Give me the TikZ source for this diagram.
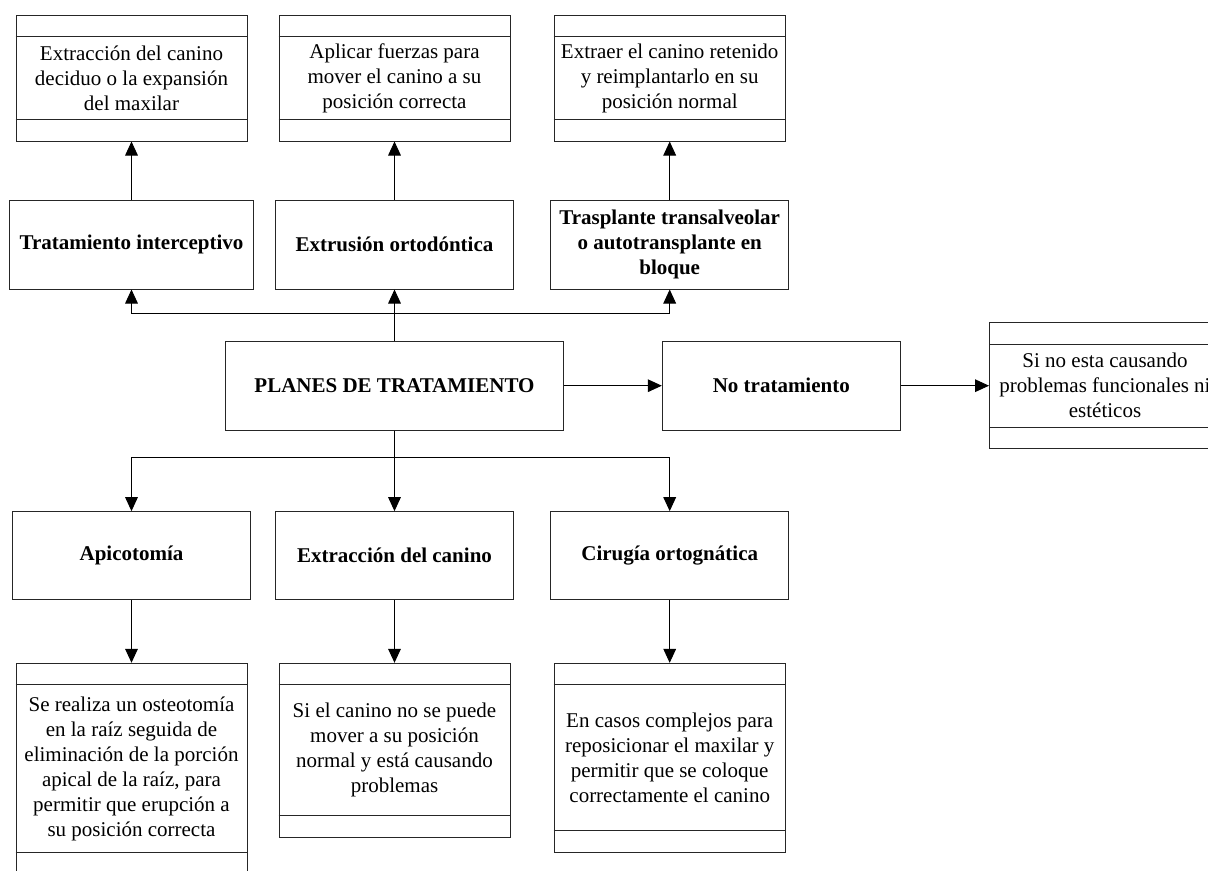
\documentclass[tikz,border=0pt]{standalone}
\usepackage{fontspec}
\setmainfont{Liberation Serif}
\usetikzlibrary{arrows.meta,calc}
\newcommand\classlines[1]{%
  \draw[boxline] ($(#1.north west)+(0,22)$) -- ($(#1.north east)+(0,22)$)
                 ($(#1.south west)+(0,-22)$) -- ($(#1.south east)+(0,-22)$);}
\begin{document}
\begin{tikzpicture}[x=0.75pt,y=-0.75pt,
  every node/.style={font=\fontsize{15.75}{18.75}\selectfont},
  boxline/.style={line width=0.75pt, draw=black!85},
  mainbox/.style 2 args={draw=black!85, line width=0.75pt, minimum width=#1*0.75pt, minimum height=#2*0.75pt, inner sep=0pt, align=center, font=\bfseries\fontsize{15.75}{18.75}\selectfont},
  clsbox/.style 2 args={draw=black!85, line width=0.75pt, minimum width=#1*0.75pt, minimum height=#2*0.75pt, inner sep=0pt},
  txt/.style={align=center, inner sep=0pt},
  arr/.style={-{Triangle[length=10.5pt,width=9.5pt]}, line width=0.75pt},
]
\useasboundingbox (0,0) rectangle (1208,871);

% main boxes
\node[mainbox={244}{89}] (m1) at (131.5,244.5) {Tratamiento interceptivo};
\node[mainbox={238}{89}] (m2) at (394.5,244.5) {Extrusión ortodóntica};
\node[mainbox={238}{89}] (m3) at (669.7,244.5) {Trasplante transalveolar\\o autotransplante en\\bloque};
\node[mainbox={338.4}{88.7}] (pl) at (394.5,385.7) {PLANES DE TRATAMIENTO};
\node[mainbox={238}{88.7}] (nt) at (781.3,385.7) {No tratamiento};
\node[mainbox={238}{88.3}] (ap) at (131.5,555.8) {Apicotomía};
\node[mainbox={238}{88.3}] (ec) at (394.5,555.8) {Extracción del canino};
\node[mainbox={238}{88.3}] (co) at (669.7,555.8) {Cirugía ortognática};

% class-like boxes
\node[clsbox={231}{126}] (t1) at (131.5,78) {};
\node[clsbox={231}{126}] (t2) at (394.5,78) {};
\node[clsbox={231}{126}] (t3) at (669.7,78) {};
\node[clsbox={231}{125.6}] (r) at (1105,385.7) {};
\node[clsbox={231}{211}] (b1) at (131.5,768.8) {};
\node[clsbox={231}{174}] (b2) at (394.5,750.3) {};
\node[clsbox={231}{188.7}] (b3) at (669.7,757.7) {};
\classlines{t1}\classlines{t2}\classlines{t3}\classlines{r}
\classlines{b1}\classlines{b2}\classlines{b3}

\node[txt] (t1x) at (t1.center) {Extracción del canino\\deciduo o la expansión\\del maxilar};
\node[txt] (t2x) at (t2.center) {Aplicar fuerzas para\\mover el canino a su\\posición correcta};
\node[txt] (t3x) at (t3.center) {Extraer el canino retenido\\y reimplantarlo en su\\posición normal};
\node[txt] (rx) at (r.center) {Si no esta causando\\problemas funcionales ni\\estéticos};
\node[txt] (b1x) at (b1.center) {Se realiza un osteotomía\\en la raíz seguida de\\eliminación de la porción\\apical de la raíz, para\\permitir que erupción a\\su posición correcta};
\node[txt] (b2x) at (b2.center) {Si el canino no se puede\\mover a su posición\\normal y está causando\\problemas};
\node[txt] (b3x) at (b3.center) {En casos complejos para\\reposicionar el maxilar y\\permitir que se coloque\\correctamente el canino};

% connectors
\coordinate (jt) at (394.5,313);
\coordinate (jb) at (394.5,457.7);
\draw[arr] (pl.north) -- (m2.south);
\draw[arr] (pl.north) -- (jt) -| (m1.south);
\draw[arr] (jt) -| (m3.south);
\draw[arr] (pl.south) -- (ec.north);
\draw[arr] (pl.south) -- (jb) -| (ap.north);
\draw[arr] (jb) -| (co.north);
\draw[arr] (pl.east) -- (nt.west);
\draw[arr] (nt.east) -- (r.west);
\draw[arr] (m1.north) -- (t1.south);
\draw[arr] (m2.north) -- (t2.south);
\draw[arr] (m3.north) -- (t3.south);
\draw[arr] (ap.south) -- (b1.north);
\draw[arr] (ec.south) -- (b2.north);
\draw[arr] (co.south) -- (b3.north);
\end{tikzpicture}
\end{document}
